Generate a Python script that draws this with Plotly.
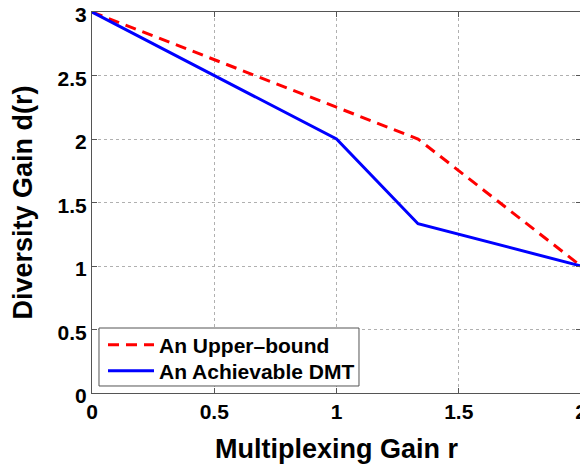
import plotly.graph_objects as go

r_upper = [0, 1, 4/3, 2]
d_upper = [3, 2.25, 2, 1]
r_ach = [0, 1, 4/3, 2]
d_ach = [3, 2, 4/3, 1]
x_ticks = [0, 0.5, 1, 1.5, 2]
y_ticks = [0, 0.5, 1, 1.5, 2, 2.5, 3]
names = ["An Upper\u2013bound", "An Achievable DMT"]

FONT = "Liberation Sans"
legend_font = dict(family=FONT, size=21, color="black", weight="bold")

fig = go.Figure()
fig.add_trace(go.Scatter(x=r_upper, y=d_upper, mode="lines", name=names[0], legend="legend",
                         line=dict(color="#ff0000", width=3, dash="11px,7px")))
fig.add_trace(go.Scatter(x=r_ach, y=d_ach, mode="lines", name=names[1], legend="legend2",
                         line=dict(color="#0000ff", width=3)))

axis_common = dict(showline=True, linecolor="#555", linewidth=1, mirror="ticks",
                   ticks="inside", ticklen=5, tickcolor="#555",
                   showgrid=True, gridcolor="#b0b0b0", griddash="dot", gridwidth=1,
                   zeroline=False, ticklabeloverflow="allow",
                   tickfont=dict(family=FONT, size=21, color="black", weight="bold"))

fig.update_xaxes(range=[0, 2], tickvals=x_ticks, ticktext=[("%g" % v) for v in x_ticks],
                 title=dict(text="Multiplexing Gain r", standoff=16,
                            font=dict(family=FONT, size=27, color="black", weight="bold")),
                 **axis_common)
fig.update_yaxes(range=[0, 3], tickvals=y_ticks, ticktext=[("%g" % v) for v in y_ticks],
                 ticklabelshift=3,
                 title=dict(text="Diversity Gain d(r)", standoff=20,
                            font=dict(family=FONT, size=27, color="black", weight="bold")),
                 **axis_common)

# legend frame (white box with border, beneath the legend entries)
fig.add_shape(type="rect", xref="paper", yref="paper",
              x0=0.0143, x1=0.546, y0=0.0184, y1=0.1706,
              line=dict(color="#555", width=1), fillcolor="white", layer="above")

leg_common = dict(xanchor="left", yanchor="middle", borderwidth=0,
                  bgcolor="rgba(0,0,0,0)", font=legend_font, itemwidth=46,
                  tracegroupgap=0)

fig.update_layout(
    width=580, height=456,
    margin=dict(l=84, r=7, t=4, b=71, autoexpand=False),
    plot_bgcolor="white", paper_bgcolor="white",
    showlegend=True,
    legend=dict(x=0.0225, y=0.126, **leg_common),
    legend2=dict(x=0.0225, y=0.0577, **leg_common),
)

fig.write_html("out.html")
